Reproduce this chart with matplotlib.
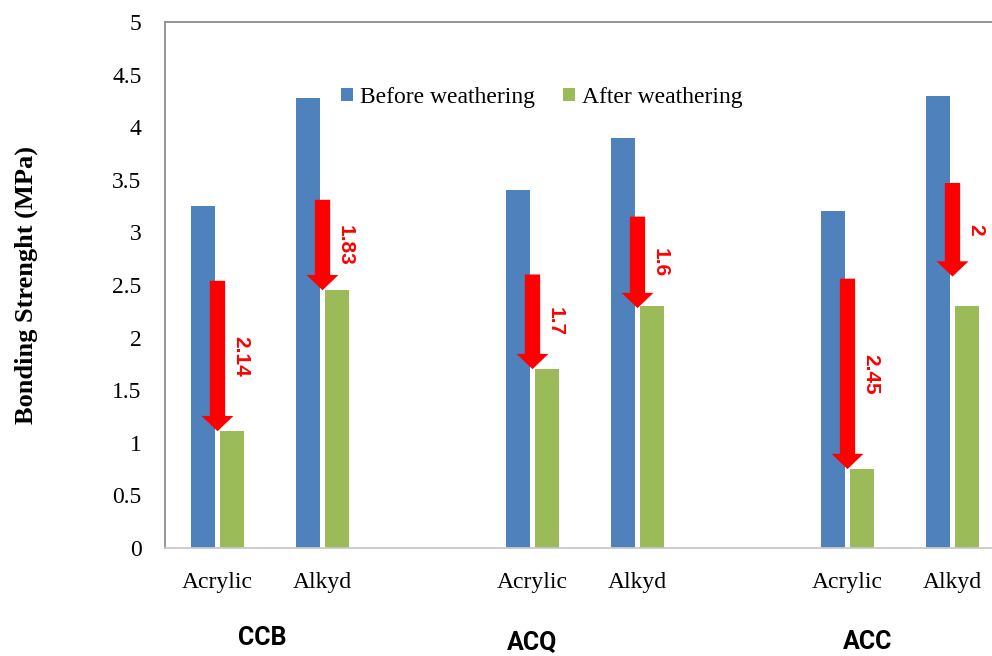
import matplotlib.pyplot as plt
import numpy as np

# bonding strength per wood treatment / coating
coatings = ["Acrylic", "Alkyd", "", "Acrylic", "Alkyd", "", "Acrylic", "Alkyd"]
treatments = ["CCB", "ACQ", "ACC"]
before = [3.25, 4.28, None, 3.40, 3.90, None, 3.20, 4.30]
after = [1.11, 2.45, None, 1.70, 2.30, None, 0.75, 2.30]

# loss annotations (arrow start, arrow tip, label)
loss_labels = ["2.14", "1.83", "", "1.7", "1.6", "", "2.45", "2"]
arrow_top = [2.54, 3.31, None, 2.60, 3.15, None, 2.56, 3.47]
arrow_tip = [1.11, 2.45, None, 1.70, 2.28, None, 0.75, 2.58]

BLUE = "#4f81bd"
GREEN = "#9bbb59"

plt.rcParams['font.family'] = ['Liberation Serif', 'DejaVu Serif']

fig = plt.figure(figsize=(9.92, 6.56), dpi=100)
ax = fig.add_axes([165 / 992, 108 / 656, 840 / 992, 526 / 656])

x = np.arange(len(coatings))
w = 0.22
off = 0.138
bx = [xi - off for xi, v in zip(x, before) if v is not None]
bv = [v for v in before if v is not None]
gx = [xi + off for xi, v in zip(x, after) if v is not None]
gv = [v for v in after if v is not None]
ax.bar(bx, bv, width=w, color=BLUE, label="Before weathering", zorder=2)
ax.bar(gx, gv, width=w, color=GREEN, label="After weathering", zorder=2)

for xi, top, tip, lab in zip(x, arrow_top, arrow_tip, loss_labels):
    if top is None:
        continue
    ax.annotate("", xy=(xi, tip), xytext=(xi, top),
                arrowprops=dict(arrowstyle="simple,head_length=11,head_width=23,tail_width=11",
                                mutation_scale=1, color="red", shrinkA=0, shrinkB=0, lw=0),
                zorder=3)
    ax.text(xi + 0.22, (top + tip) / 2, lab, rotation=-90, color="red",
            fontsize=15, fontweight="bold", family=["Liberation Sans", "DejaVu Sans"],
            ha="center", va="center", zorder=4)

ax.set_xlim(-0.5, 7.5)
ax.set_ylim(0, 5)
ax.set_yticks(np.arange(0, 5.01, 0.5))
ax.set_yticklabels(["0", "0.5", "1", "1.5", "2", "2.5", "3", "3.5", "4", "4.5", "5"])
ax.set_xticks(x)
ax.set_xticklabels(coatings)
ax.tick_params(axis="both", length=0, labelsize=17)
ax.tick_params(axis="y", pad=17)
ax.tick_params(axis="x", pad=17)

for s in ["left", "top", "right"]:
    ax.spines[s].set_color("#8c8c8c")
    ax.spines[s].set_linewidth(1.3)
ax.spines["bottom"].set_color("#c8c8c8")
ax.spines["bottom"].set_linewidth(1.3)

ax.set_ylabel("Bonding Strenght (MPa)", fontsize=19, fontweight="bold", labelpad=53)

# treatment names under each pair of coatings
group_y = [638, 643, 642]
for name, xc, yp in zip(treatments, [0.43, 3.0, 6.19], group_y):
    ax.text(xc, -(yp - 548) / 526, name, transform=ax.get_xaxis_transform(),
            ha="center", va="center", fontsize=18, fontweight="bold",
            family=["Roboto", "DejaVu Sans"])

ax.legend(loc="center left", bbox_to_anchor=(0.198, 0.857), ncol=2, frameon=False,
          fontsize=17, handlelength=0.5, handleheight=0.5, handletextpad=0.3,
          columnspacing=1.2, borderaxespad=0)

fig.savefig("out.png", dpi=100)
